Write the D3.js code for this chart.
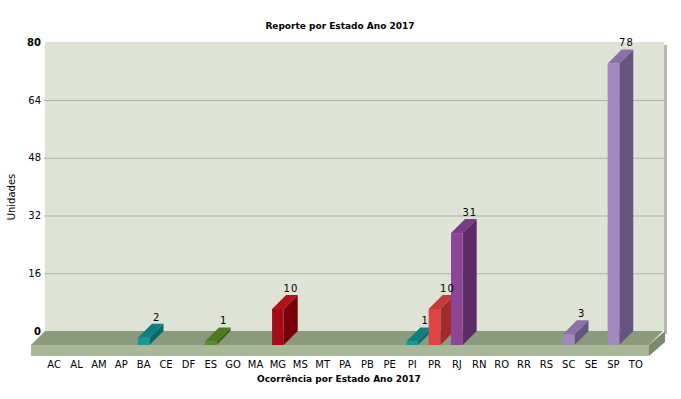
<!DOCTYPE html>
<html>
<head>
<meta charset="utf-8">
<script src="https://cdn.jsdelivr.net/npm/d3@7"></script>
<style>
  body { margin: 0; background: #ffffff; }
  text { font-family: "DejaVu Sans", Verdana, sans-serif; }
</style>
</head>
<body>
<div id="chart"></div>
<script>
// data
var estados = ["AC","AL","AM","AP","BA","CE","DF","ES","GO","MA","MG","MS","MT","PA",
               "PB","PE","PI","PR","RJ","RN","RO","RR","RS","SC","SE","SP","TO"];
var ocorrencias = [0,0,0,0,2,0,0,1,0,0,10,0,0,0,0,0,1,10,31,0,0,0,0,3,0,78,0];
var yTicks = [0,16,32,48,64,80];

// colours per bar: front, top, side
var cores = {
  BA: ["#179797","#0f8080","#096868"],
  ES: ["#5b8b2b","#4c7a20","#3d6618"],
  MG: ["#a30b15","#b2121c","#780008"],
  PI: ["#179797","#0f8080","#096868"],
  PR: ["#dd4545","#c23a3a","#9e2c2c"],
  RJ: ["#8d4597","#793a86","#5d2c67"],
  SC: ["#a188bf","#8a72a8","#68557f"],
  SP: ["#a188bf","#8a72a8","#68557f"]
};

var width = 681, height = 399;
var depth = 14;
var wallLeft = 45, wallRight = 664, wallTop = 42, base = 345;

var svg = d3.select("#chart")
  .append("svg")
    .attr("width", width)
    .attr("height", height);

// scales (front plane)
var x = d3.scaleBand()
  .domain(estados)
  .range([43, 647])
  .paddingInner(0.48)
  .paddingOuter(0.24);

var y = d3.scaleLinear()
  .domain([0, 80])
  .range([base, base - 288.75]);

// back wall + shadow
svg.append("rect")
  .attr("x", wallRight).attr("y", wallTop + 3)
  .attr("width", 3).attr("height", base - depth - wallTop)
  .attr("fill", "#b3b8aa");
svg.append("rect")
  .attr("x", wallLeft).attr("y", wallTop)
  .attr("width", wallRight - wallLeft).attr("height", base - depth - wallTop)
  .attr("fill", "#dee3d5");

// grid + y labels on the back wall
var yAxis = svg.append("g")
  .attr("transform", "translate(" + wallLeft + "," + (-depth) + ")")
  .call(d3.axisLeft(y).tickValues(yTicks).tickSize(-(wallRight - wallLeft)).tickPadding(4));
yAxis.select(".domain").remove();
yAxis.selectAll(".tick line")
  .attr("x1", -1)
  .attr("stroke", "#a9b79b")
  .attr("stroke-width", 1.2)
  .style("display", function(d) { return (d == 0 || d == 80) ? "none" : null; });
yAxis.selectAll(".tick text")
  .attr("fill", "#000")
  .style("font-size", "10px")
  .style("font-family", "DejaVu Sans, Verdana, sans-serif")
  .style("font-weight", function(d) { return (d == 0 || d == 80) ? "bold" : "normal"; });

// floor
var fl = 31, fr = 649;
svg.append("polygon")
  .attr("points", [[fl, base], [fl + depth, base - depth], [fr + depth, base - depth], [fr, base]].join(" "))
  .attr("fill", "#8b9a7d");
svg.append("polygon")
  .attr("points", [[fl, base], [fr, base], [fr, base + 11], [fl, base + 11]].join(" "))
  .attr("fill", "#a9b897");
svg.append("polygon")
  .attr("points", [[fr, base], [fr + depth + 2, base - depth], [fr + depth + 2, base - depth + 11], [fr, base + 11]].join(" "))
  .attr("fill", "#7b8a6d");

// bars
var bw = x.bandwidth();
var bars = svg.append("g");
var labels = svg.append("g");
estados.forEach(function(e, i) {
  var v = ocorrencias[i];
  if (!v) return;
  var c = cores[e];
  var x0 = x(e), x1 = x0 + bw, yt = y(v);
  var g = bars.append("g");
  g.append("polygon")
    .attr("points", [[x1, base], [x1 + depth, base - depth], [x1 + depth, yt - depth], [x1, yt]].join(" "))
    .attr("fill", c[2]);
  g.append("polygon")
    .attr("points", [[x0, yt], [x0 + depth, yt - depth], [x1 + depth, yt - depth], [x1, yt]].join(" "))
    .attr("fill", c[1]);
  g.append("rect")
    .attr("x", x0).attr("y", yt)
    .attr("width", bw).attr("height", base - yt)
    .attr("fill", c[0]);
  labels.append("text")
    .attr("x", x0 + bw / 2 + 13)
    .attr("y", yt - depth - 3)
    .attr("text-anchor", "middle")
    .style("font-size", "10px")
    .style("letter-spacing", "1px")
    .text(v);
});

// x axis labels
var xAxis = svg.append("g")
  .attr("transform", "translate(0," + (base + 11) + ")")
  .call(d3.axisBottom(x).tickSize(0).tickPadding(5));
xAxis.select(".domain").remove();
xAxis.selectAll("text")
  .attr("fill", "#000")
  .style("font-size", "10px")
  .style("font-family", "DejaVu Sans, Verdana, sans-serif");

// titles
svg.append("text")
  .attr("x", 340).attr("y", 29)
  .attr("text-anchor", "middle")
  .style("font-size", "9px").style("font-weight", "bold")
  .text("Reporte por Estado Ano 2017");

svg.append("text")
  .attr("x", 339).attr("y", 382)
  .attr("text-anchor", "middle")
  .style("font-size", "9px").style("font-weight", "bold")
  .text("Ocorrência por Estado Ano 2017");

svg.append("text")
  .attr("transform", "translate(15,197) rotate(-90)")
  .attr("text-anchor", "middle")
  .style("font-size", "10px")
  .text("Unidades");
</script>
</body>
</html>
